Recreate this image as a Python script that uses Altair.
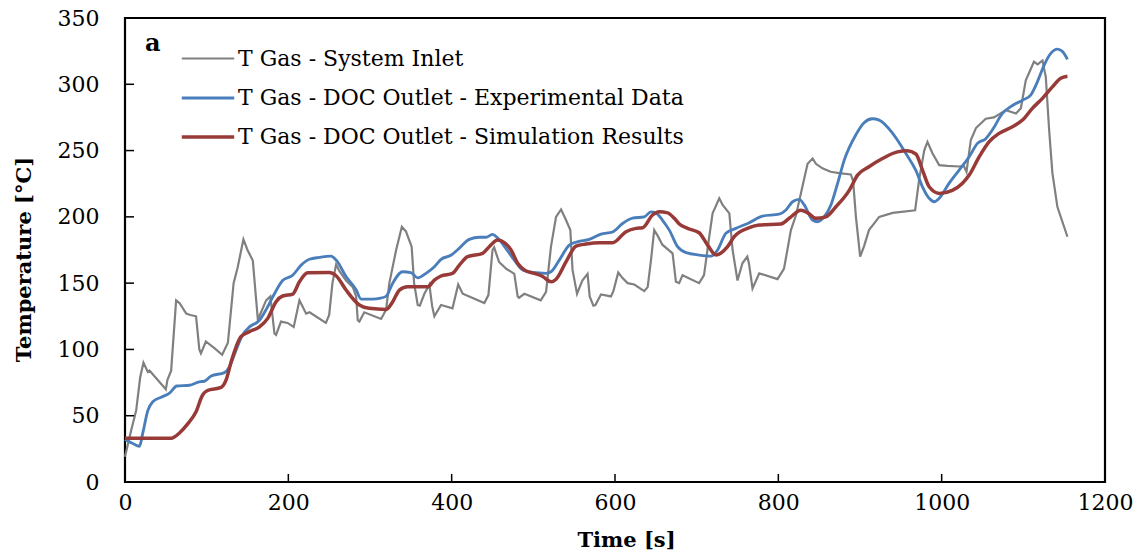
import altair as alt
import pandas as pd

# ---- data ----
inlet_t = [0, 7.6, 13.7, 18.6, 22.6, 28, 30, 50, 52, 56.5, 62.6, 66.7, 75, 80, 87, 91, 93, 99, 109.5, 119, 126,
           133, 138, 145, 150, 156.5, 162.6, 164.5, 172.8, 178, 183, 185, 191, 199, 206.6, 213.6, 221.8, 226, 246,
           250, 254, 258.5, 262.6, 270.7, 279, 283, 285, 287, 293, 313.6, 319.7, 323.7, 332, 339, 344, 351, 354,
           358.4, 361, 366.6, 372.7, 376, 378.8, 387, 401, 408, 413.5, 421.5, 440, 445, 450, 452, 458, 466.6,
           476.7, 480.8, 482.5, 489, 509, 515.6, 521.6, 527.8, 534, 540, 545.3, 548, 553.5, 560, 566.4, 569,
           573.5, 576, 582.8, 595, 598, 604, 609, 615.4, 623.6, 635.8, 640, 644, 648, 652, 658, 670.5, 674.6,
           678.6, 682.7, 703, 709, 715.4, 719.5, 727.7, 731.8, 740, 744, 750, 756, 762, 764, 768.4, 776.6, 799,
           807, 815.4, 821.5, 829.6, 835.8, 842, 846, 854, 864, 874.5, 888.8, 891.6, 895, 900.2, 905, 911, 923.5,
           940, 967.5, 972.4, 978.6, 982.6, 988.7, 997, 1007, 1021.4, 1027, 1030.4, 1035.7, 1042, 1054, 1064,
           1078.6, 1091, 1097, 1103, 1113, 1117.6, 1123.4, 1127.5, 1131.6, 1135.6, 1141.7, 1154]
inlet_T = [19, 39, 54, 79, 90, 83, 84, 70, 77, 84, 137, 135, 127, 126, 125, 100, 97, 106, 101, 96, 105,
           150, 162, 183, 175, 167, 123, 125, 137, 140, 112, 111, 121, 120, 117, 137, 127, 128, 120,
           126, 150, 164, 159, 152, 147, 140, 122, 121, 128, 123, 130, 150, 175, 192.5, 189, 177.5, 150,
           133.5, 133, 142, 149, 133, 125, 133.5, 131, 149, 142, 140, 135, 141, 175, 177, 166, 161,
           157, 140, 139, 142, 137, 143.5, 177.5, 200, 205.6, 197.6, 190, 160, 142, 152, 157, 140,
           133, 133.5, 141.5, 140, 144, 158, 154, 150, 149, 144, 147, 167, 190, 186, 179, 172.5, 151,
           150, 156, 150, 156, 185, 202.6, 214, 209, 202.6, 175, 152, 165, 170, 165, 146, 157.4, 153,
           161, 190, 201, 223, 240, 244, 240, 236.6, 234, 233, 232, 227, 200, 170, 178, 190, 200,
           203, 205, 228, 250, 256.6, 248, 239, 238.5, 238, 238.5, 234, 258, 267, 274, 275,
           280.5, 278, 282, 303, 317, 315, 318, 305.6, 265.5, 233, 207.6, 185]

exp_t = [0, 9.5, 17.7, 21.8, 28, 34, 44.3, 54.5, 63.4, 79, 91, 97, 105.5, 121.8, 128, 136, 144, 152.4, 164.6,
         172.8, 183, 193, 205.4, 215.7, 225.8, 238, 252.4, 258.5, 270.7, 283, 289, 303.5, 311.5, 319.6, 327.8,
         340, 350, 358.4, 368.6, 378.8, 387, 399, 407, 421.6, 434, 442, 450, 456.3, 466.6, 476.7, 487, 499,
         515.5, 521.6, 531.8, 544, 554, 568.5, 582.8, 597, 609.3, 621.5, 635.8, 644, 650, 658, 666.5, 676.6,
         687, 703, 717.5, 725.6, 735.8, 748, 764.4, 780.7, 801, 809, 817.4, 825.6, 831.7, 841.9, 848, 856,
         864.4, 872.6, 880.7, 895, 905, 915, 923.5, 940, 956, 968.4, 976.5, 984.7, 990.8, 997, 1009, 1021.4,
         1033.7, 1043.8, 1054, 1062, 1074.4, 1086.7, 1099, 1109, 1117.3, 1125.5, 1133.6, 1141.7, 1147.8, 1154]
exp_T = [32, 29, 27, 37, 54, 60.6, 64, 67, 72.4, 73, 75.6, 76, 80, 82.5, 87, 99.5, 111, 117, 122,
         130, 142, 152, 156, 163.6, 168, 169.4, 170.4, 167.4, 155, 145, 138, 138, 138.5, 140, 150,
         158.6, 158, 154, 157.4, 162.4, 168, 171, 175, 183, 184.6, 184.6, 186.8, 184, 176, 167.4, 160, 158,
         157.4, 158.6, 167.4, 178.7, 181.2, 183, 187, 188.6, 195, 199, 200, 203.8, 203, 197.6, 190, 177.5,
         173, 171.2, 170.4, 175, 187.6, 191.3, 195.6, 200.6, 202, 205, 211.4, 213.2, 209, 197.6, 196.3, 200,
         209, 225.3, 242.8, 262, 271, 274, 273, 263, 248, 235, 222.7, 214, 211.4, 214, 225.3, 235.3,
         245.3, 255.4, 259, 265.5, 278, 284, 288, 291.8, 302, 314.5, 323.3, 326.5, 324.8, 318.8]

sim_t = [0, 56.5, 66.7, 77, 87, 95, 101, 117.7, 123.8, 130, 142, 152.4, 164.6, 174.8, 185, 193, 205.4, 213.6,
         223.7, 250.3, 258.5, 270.7, 287, 299, 319.7, 327.8, 336, 346, 370.6, 378.8, 387, 401, 409.4, 419.6,
         438, 446, 456.3, 464.5, 472.7, 480.8, 489, 503.3, 511.4, 521.6, 527.8, 540, 552.3, 564.5, 580.8, 597,
         613.5, 625.7, 633.8, 646, 654.2, 664.4, 672.6, 678.7, 688.9, 703, 713.4, 723.6, 737.8, 746, 764.4,
         776.6, 803.2, 813.3, 827.7, 836, 846, 858.2, 870.5, 886.8, 897, 911, 927.5, 946, 958, 968.4, 976.5,
         984.7, 997, 1013, 1025.5, 1033.7, 1045.9, 1058, 1070.4, 1086.7, 1099, 1111, 1123.4, 1135.6, 1145.8, 1154]
sim_T = [33, 33, 37, 44, 53, 65.6, 69, 71.4, 77, 90.7, 109.6, 113.4, 117, 123.4, 136, 140.3, 141.8, 151,
         157.8, 158, 155.6, 144.8, 133.5, 131, 130.2, 136, 144.8, 147.3, 147.3, 152.3, 155.4, 157.4, 163.6, 170,
         172.5, 177.5, 182.5, 180.5, 175, 165, 160, 157, 155, 151, 153, 166, 178, 179.5, 180.5, 180.5,
         188.8, 191.3, 191.8, 201.4, 203.8, 203, 198.9, 194.6, 191.3, 188, 178.7, 171.2, 177.5, 185, 191.8,
         193.8, 194.6, 198.9, 205, 203, 198.9, 200, 207.6, 220, 231.5, 237.8, 244, 249, 249.8, 247.4, 235.3,
         222.7, 217.7, 220, 225.3, 231.5, 245.3, 256.6, 263, 268, 273, 281.8, 289.4, 298, 304.5, 306]

series_names = ["T Gas - System Inlet",
                "T Gas - DOC Outlet - Experimental Data",
                "T Gas - DOC Outlet - Simulation Results"]
series_colors = ["#808080", "#4A7EBB", "#983A37"]
series_widths = [2.2, 3.5, 3.5]

x_ticks = [0, 200, 400, 600, 800, 1000, 1200]
y_ticks = [0, 50, 100, 150, 200, 250, 300, 350]
x_inner_ticks = [200, 400, 600, 800, 1000]
y_inner_ticks = [50, 100, 150, 200, 250, 300]

FONT = "DejaVu Serif"

rows = []
for name, ts, vs in zip(series_names, [inlet_t, exp_t, sim_t], [inlet_T, exp_T, sim_T]):
    for t, v in zip(ts, vs):
        rows.append({"series": name, "t": t, "T": v})
df = pd.DataFrame(rows)

W, H = 980, 464

xscale = alt.Scale(domain=[0, 1200], nice=False, zero=False)
yscale = alt.Scale(domain=[0, 350], nice=False, zero=False)

xaxis = alt.Axis(values=x_ticks, format="d", title="Time [s]", grid=False, domain=False, ticks=False,
                 labelFont=FONT, labelFontSize=22, labelColor="black", labelPadding=10,
                 labelFlush=False, labelOverlap=False,
                 titleFont=FONT, titleFontSize=21, titleFontWeight="bold", titleColor="black",
                 titleX=501, titleY=64, titleBaseline="alphabetic", titleAnchor="start", titleAlign="center")
yaxis = alt.Axis(values=y_ticks, format="d", title="Temperature [°C]", grid=False, domain=False, ticks=False,
                 labelFont=FONT, labelFontSize=22, labelColor="black", labelPadding=26,
                 labelFlush=False, labelOverlap=False,
                 titleFont=FONT, titleFontSize=21, titleFontWeight="bold", titleColor="black",
                 titleX=-101, titleY=241, titleAngle=270, titleBaseline="middle", titleAlign="center")

color = alt.Color("series:N", scale=alt.Scale(domain=series_names, range=series_colors), title=None,
                  legend=alt.Legend(orient="none", legendX=55, legendY=13, symbolType="stroke",
                                    symbolSize=2750, symbolStrokeWidth=3.5, labelFont=FONT,
                                    labelFontSize=22, labelColor="black", labelOffset=2,
                                    rowPadding=0, labelLimit=600))
swidth = alt.StrokeWidth("series:N", scale=alt.Scale(domain=series_names, range=series_widths),
                         legend=None)

base = alt.Chart(df).encode(
    x=alt.X("t:Q", scale=xscale, axis=xaxis),
    y=alt.Y("T:Q", scale=yscale, axis=yaxis),
    color=color,
    strokeWidth=swidth,
    order=alt.Order("t:Q"),
)

gray = base.transform_filter(alt.datum.series == series_names[0]).mark_line(interpolate="linear")
blue = base.transform_filter(alt.datum.series == series_names[1]).mark_line(interpolate="monotone")
red = base.transform_filter(alt.datum.series == series_names[2]).mark_line(interpolate="monotone")

xt = alt.Chart(pd.DataFrame({"v": x_inner_ticks})).mark_rule(color="black", strokeWidth=1.5).encode(
    x=alt.X("v:Q", scale=xscale), y=alt.value(H), y2=alt.value(H - 8))
yt = alt.Chart(pd.DataFrame({"v": y_inner_ticks})).mark_rule(color="black", strokeWidth=1.5).encode(
    y=alt.Y("v:Q", scale=yscale), x=alt.value(0), x2=alt.value(9))

label_a = alt.Chart(pd.DataFrame({"s": ["a"]})).mark_text(
    font=FONT, fontSize=24, fontWeight="bold", align="left", baseline="alphabetic", color="black"
).encode(text="s:N", x=alt.value(20), y=alt.value(33))

chart = alt.layer(gray, blue, red, xt, yt, label_a).properties(
    width=W, height=H,
    autosize=alt.AutoSizeParams(type="none"),
    padding={"left": 125, "top": 18, "right": 36, "bottom": 76},
    background="white",
).configure_view(stroke="black", strokeWidth=2.2)

chart.save("out.html", embed_options={"renderer": "svg", "actions": False})
